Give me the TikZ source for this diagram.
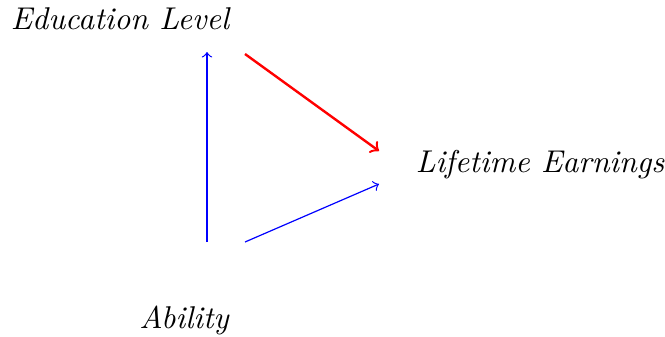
\documentclass[tikz,border=0pt]{standalone}
\begin{document}
\begin{tikzpicture}[x=0.3333pt,y=-0.3333pt,
  lab/.style={font=\fontsize{10.5}{13}\selectfont\itshape, inner sep=0pt, anchor=center},
  blueedge/.style={->, blue},
  rededge/.style={->, red, thick}]
\useasboundingbox (0,0) rectangle (665,336);
\node[lab] (edu) at (120,19) {Education Level};
\node[lab] (earn) at (540,165) {Lifetime Earnings};
\node[lab] (abil) at (184,320) {Ability};
\coordinate (a1) at (207,242);
\coordinate (e1) at (207,52);
\coordinate (e2) at (245,54);
\coordinate (l1) at (379,151);
\coordinate (a2) at (245,242);
\coordinate (l2) at (379,184);
\draw[blueedge] (a1) -- (e1);
\draw[rededge] (e2) -- (l1);
\draw[blueedge] (a2) -- (l2);
\end{tikzpicture}
\end{document}
